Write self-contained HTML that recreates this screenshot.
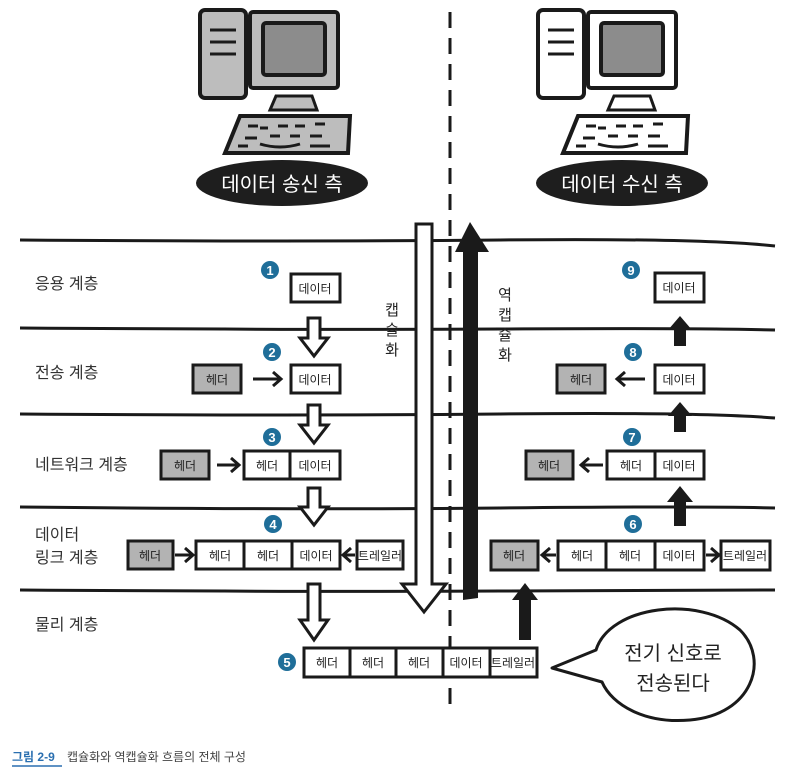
<!DOCTYPE html>
<html><head><meta charset="utf-8"><style>
html,body{margin:0;padding:0;background:#fff;}
svg{display:block;}
text{font-family:"Liberation Sans","Noto Sans CJK KR",sans-serif;}
</style></head><body>
<svg width="794" height="777" viewBox="0 0 794 777" xmlns="http://www.w3.org/2000/svg">
<defs>
<g id="comp">
  <rect x="0" y="0" width="46" height="88" rx="5" stroke="#1a1a1a" stroke-width="4"/>
  <line x1="10" y1="20" x2="36" y2="20" stroke="#1a1a1a" stroke-width="3"/>
  <line x1="10" y1="32" x2="36" y2="32" stroke="#1a1a1a" stroke-width="3"/>
  <line x1="10" y1="44" x2="36" y2="44" stroke="#1a1a1a" stroke-width="3"/>
  <rect x="50" y="2" width="88" height="76" rx="3" stroke="#1a1a1a" stroke-width="4"/>
  <rect x="63" y="13" width="62" height="52" rx="3" fill="#8c8c8c" stroke="#1a1a1a" stroke-width="4"/>
  <polygon points="76,86 112,86 117,100 70,100" stroke="#1a1a1a" stroke-width="3"/>
  <polygon points="40,106 150,106 148,143 25,143" stroke="#1a1a1a" stroke-width="4"/>
  <path d="M48,116 h10 M60,118 h8 M78,116 h10 M95,116 h10 M115,114 h10 M45,128 h12 M70,126 h10 M90,126 h10 M110,126 h12 M38,136 h10 M60,134 q20,6 40,0 M110,136 h20" stroke="#1a1a1a" stroke-width="3" fill="none"/>
</g>
</defs>

<!-- computers -->
<use href="#comp" x="200" y="10" fill="#bdbdbd"/>
<use href="#comp" x="538" y="10" fill="#ffffff"/>
<ellipse cx="282" cy="183" rx="86" ry="23" fill="#1e1e1e"/>
<text x="282" y="191" font-size="20" fill="#fff" text-anchor="middle">데이터 송신 측</text>
<ellipse cx="622" cy="183" rx="86" ry="23" fill="#1e1e1e"/>
<text x="622" y="191" font-size="20" fill="#fff" text-anchor="middle">데이터 수신 측</text>

<!-- layer lines -->
<g stroke="#1a1a1a" stroke-width="3" fill="none">
  <path d="M20,240 Q300,242 500,240 T775,246"/>
  <path d="M20,328 Q300,330 500,329 T775,330"/>
  <path d="M20,414 Q300,416 500,414 T775,418"/>
  <path d="M20,507 Q300,510 500,508 T775,508"/>
  <path d="M20,590 Q300,592 500,591 T775,590"/>
</g>
<!-- dashed vertical -->
<line x1="450" y1="12" x2="450" y2="712" stroke="#1a1a1a" stroke-width="3" stroke-dasharray="16,10"/>

<!-- big hollow arrow -->
<polygon points="416,224 432,224 432,584 446,584 424,612 402,584 416,584" fill="#fff" stroke="#1a1a1a" stroke-width="3"/>
<!-- big black arrow -->
<polygon points="463,600 478,598 478,252 489,252 470,222 455,252 463,252" fill="#1a1a1a"/>

<g font-size="15" fill="#222" text-anchor="middle">
  <text x="392" y="315">캡</text><text x="392" y="335">슐</text><text x="392" y="355">화</text>
  <text x="505" y="300">역</text><text x="505" y="320">캡</text><text x="505" y="340">슐</text><text x="505" y="360">화</text>
</g>

<!-- layer labels -->
<g font-size="16" fill="#333">
  <text x="35" y="289">응용 계층</text>
  <text x="35" y="378">전송 계층</text>
  <text x="35" y="470">네트워크 계층</text>
  <text x="35" y="540">데이터</text>
  <text x="35" y="563">링크 계층</text>
  <text x="35" y="630">물리 계층</text>
</g>

<!-- hollow down arrows -->
<g fill="#fff" stroke="#1a1a1a" stroke-width="3">
  <polygon points="308,318 320,318 320,338 328,338 314,356 300,338 308,338"/>
  <polygon points="308,405 320,405 320,425 328,425 314,443 300,425 308,425"/>
  <polygon points="308,488 320,488 320,507 328,507 314,525 300,507 308,507"/>
  <polygon points="308,584 320,584 320,620 328,620 314,640 300,620 308,620"/>
</g>
<!-- black up arrows -->
<g fill="#1a1a1a">
  <polygon points="674,346 686,346 686,330 692,330 680,316 668,330 674,330"/>
  <polygon points="674,432 686,432 686,416 692,416 680,402 668,416 674,416"/>
  <polygon points="674,526 686,526 686,502 693,502 680,486 667,502 674,502"/>
  <polygon points="519,640 531,640 531,600 538,600 525,583 512,600 519,600"/>
</g>

<!-- boxes -->
<g stroke="#1a1a1a" stroke-width="3">
  <rect x="291" y="274" width="49" height="28" fill="#fff"/>
  <rect x="193" y="365" width="48" height="28" fill="#b3b3b3"/>
  <rect x="291" y="365" width="49" height="28" fill="#fff"/>
  <rect x="161" y="451" width="48" height="28" fill="#b3b3b3"/>
  <rect x="244" y="451" width="46" height="28" fill="#fff"/>
  <rect x="290" y="451" width="50" height="28" fill="#fff"/>
  <rect x="128" y="541" width="45" height="28" fill="#b3b3b3"/>
  <rect x="196" y="541" width="48" height="28" fill="#fff"/>
  <rect x="244" y="541" width="48" height="28" fill="#fff"/>
  <rect x="292" y="541" width="48" height="28" fill="#fff"/>
  <rect x="357" y="541" width="46" height="28" fill="#fff"/>
  <rect x="304" y="648" width="46" height="29" fill="#fff"/>
  <rect x="350" y="648" width="46" height="29" fill="#fff"/>
  <rect x="396" y="648" width="47" height="29" fill="#fff"/>
  <rect x="443" y="648" width="47" height="29" fill="#fff"/>
  <rect x="490" y="648" width="47" height="29" fill="#fff"/>
  <rect x="655" y="273" width="49" height="29" fill="#fff"/>
  <rect x="557" y="365" width="48" height="28" fill="#b3b3b3"/>
  <rect x="655" y="365" width="49" height="28" fill="#fff"/>
  <rect x="526" y="451" width="47" height="28" fill="#b3b3b3"/>
  <rect x="607" y="451" width="48" height="28" fill="#fff"/>
  <rect x="655" y="451" width="49" height="28" fill="#fff"/>
  <rect x="491" y="541" width="47" height="29" fill="#b3b3b3"/>
  <rect x="558" y="541" width="48" height="29" fill="#fff"/>
  <rect x="606" y="541" width="49" height="29" fill="#fff"/>
  <rect x="655" y="541" width="49" height="29" fill="#fff"/>
  <rect x="721" y="541" width="49" height="29" fill="#fff"/>
</g>
<g font-size="12" fill="#222" text-anchor="middle">
  <text x="315" y="293">데이터</text>
  <text x="217" y="384">헤더</text><text x="315" y="384">데이터</text>
  <text x="185" y="470">헤더</text><text x="267" y="470">헤더</text><text x="315" y="470">데이터</text>
  <text x="150" y="560">헤더</text><text x="220" y="560">헤더</text><text x="268" y="560">헤더</text><text x="316" y="560">데이터</text><text x="380" y="560">트레일러</text>
  <text x="327" y="667">헤더</text><text x="373" y="667">헤더</text><text x="419" y="667">헤더</text><text x="466" y="667">데이터</text><text x="513" y="667">트레일러</text>
  <text x="679" y="292">데이터</text>
  <text x="581" y="384">헤더</text><text x="679" y="384">데이터</text>
  <text x="549" y="470">헤더</text><text x="631" y="470">헤더</text><text x="679" y="470">데이터</text>
  <text x="514" y="560">헤더</text><text x="582" y="560">헤더</text><text x="630" y="560">헤더</text><text x="679" y="560">데이터</text><text x="745" y="560">트레일러</text>
</g>

<!-- small arrows -->
<g stroke="#1a1a1a" stroke-width="3" fill="none">
  <path d="M253,379 h28 M273,372 l8,7 l-8,7"/>
  <path d="M217,465 h22 M231,458 l8,7 l-8,7"/>
  <path d="M175,555 h17 M185,548 l8,7 l-8,7"/>
  <path d="M355,555 h-12 M351,548 l-8,7 l8,7"/>
  <path d="M645,379 h-28 M625,372 l-8,7 l8,7"/>
  <path d="M603,465 h-22 M589,458 l-8,7 l8,7"/>
  <path d="M556,555 h-14 M550,548 l-8,7 l8,7"/>
  <path d="M706,555 h13 M711,548 l8,7 l-8,7"/>
</g>

<!-- number circles -->
<g fill="#1f6e99">
  <circle cx="270" cy="270" r="9"/><circle cx="272" cy="352" r="9"/><circle cx="272" cy="437" r="9"/>
  <circle cx="273" cy="524" r="9"/><circle cx="287" cy="662" r="9"/>
  <circle cx="631" cy="270" r="9"/><circle cx="633" cy="352" r="9"/><circle cx="632" cy="437" r="9"/><circle cx="633" cy="524" r="9"/>
</g>
<g font-size="13" font-weight="bold" fill="#fff" text-anchor="middle">
  <text x="270" y="275">1</text><text x="272" y="357">2</text><text x="272" y="442">3</text>
  <text x="273" y="529">4</text><text x="287" y="667">5</text>
  <text x="631" y="275">9</text><text x="633" y="357">8</text><text x="632" y="442">7</text><text x="633" y="529">6</text>
</g>

<!-- speech bubble -->
<path d="M596,650 C610,605 700,595 740,630 C770,660 752,715 690,720 C645,724 612,705 602,682 L552,668 Z" fill="#fff" stroke="#1a1a1a" stroke-width="3" stroke-linejoin="round"/>
<g font-size="20" fill="#222" text-anchor="middle">
  <text x="673" y="660">전기 신호로</text>
  <text x="673" y="690">전송된다</text>
</g>

<!-- caption -->
<text x="12" y="761" font-size="12" fill="#2a6fb0" font-weight="bold">그림 2-9</text>
<line x1="12" y1="766" x2="62" y2="766" stroke="#2a6fb0" stroke-width="1.5"/>
<text x="67" y="761" font-size="12" fill="#444">캡슐화와 역캡슐화 흐름의 전체 구성</text>
</svg>
</body></html>
